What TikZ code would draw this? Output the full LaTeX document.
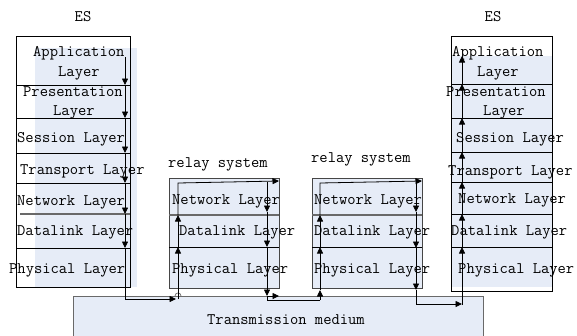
\documentclass[tikz,border=0pt]{standalone}
\usepackage{fontspec}
\usetikzlibrary{arrows.meta}
\definecolor{lblue}{RGB}{230,236,247}
\definecolor{dgray}{RGB}{105,105,105}
\definecolor{bgray}{RGB}{70,70,70}
\begin{document}
\begin{tikzpicture}[x=1pt,y=-1pt,
  lbl/.style={anchor=base west, inner sep=0pt, font=\ttfamily\fontsize{16.1}{18}\selectfont},
  ttl/.style={anchor=base, inner sep=0pt, font=\ttfamily\fontsize{16.1}{18}\selectfont},
  flow/.style={draw=black, line width=0.8pt},
  arr/.style={flow, -{Triangle[length=6.5pt,width=6pt]}},
  esbox/.style={draw=black, line width=0.7pt},
  divk/.style={draw=black, line width=0.7pt},
  divg/.style={draw=dgray, line width=1.1pt},
  relaybox/.style={fill=lblue, draw=bgray, line width=0.8pt},
  medbox/.style={fill=lblue, draw=dgray, line width=0.8pt}]
\useasboundingbox (0,0) rectangle (577,335);

% transmission medium
\draw[medbox] (73,340) -- (73,296) -- (483,296) -- (483,340);
\node[lbl] (tm) at (207,324) {Transmission medium};

% left ES
\fill[lblue] (35,48) rectangle (137,287);
\draw[esbox] (16,36) rectangle (130,287);
\foreach \y in {85,118,153,183,248} \draw[divk] (16,\y) -- (130,\y);
\draw[divg] (20,214) -- (130,214);
\node[ttl] (es1) at (83,21) {ES};
\node[lbl] (l1a) at (33,56) {Application};
\node[lbl] (l1b) at (58,76) {Layer};
\node[lbl] (l2a) at (23,96) {Presentation};
\node[lbl] (l2b) at (53,115) {Layer};
\node[lbl] (l3) at (17,142) {Session Layer};
\node[lbl] (l4) at (20,174) {Transport Layer};
\node[lbl] (l5) at (17,205) {Network Layer};
\node[lbl] (l6) at (17,235) {Datalink Layer};
\node[lbl] (l7) at (9,273) {Physical Layer};

% right ES
\fill[lblue] (451,56) rectangle (552,287);
\draw[esbox] (451,36) rectangle (552,291);
\foreach \y in {84,118,152,182,214,247} \draw[divk] (451,\y) -- (552,\y);
\node[ttl] (es2) at (493,21) {ES};
\node[lbl] (r1a) at (452,56) {Application};
\node[lbl] (r1b) at (477,76) {Layer};
\node[lbl] (r2a) at (446,96) {Presentation};
\node[lbl] (r2b) at (483,115) {Layer};
\node[lbl] (r3) at (456,142) {Session Layer};
\node[lbl] (r4) at (448,175) {Transport Layer};
\node[lbl] (r5) at (458,203) {Network Layer};
\node[lbl] (r6) at (451,235) {Datalink Layer};
\node[lbl] (r7) at (458,273) {Physical Layer};

% relay 1
\draw[relaybox] (169,178) rectangle (279,288);
\draw[divg] (169,215) -- (279,215);
\draw[divk] (169,247) -- (279,247);
\node[lbl] (rs1) at (168,167) {relay system};
\node[lbl] (a5) at (172,204) {Network Layer};
\node[lbl] (a6) at (179,235) {Datalink Layer};
\node[lbl] (a7) at (172,273) {Physical Layer};

% relay 2
\draw[relaybox] (312,178) rectangle (422,288);
\draw[divg] (312,215) -- (422,215);
\draw[divk] (312,247) -- (422,247);
\node[lbl] (rs2) at (311,162) {relay system};
\node[lbl] (b5) at (314,204) {Network Layer};
\node[lbl] (b6) at (314,235) {Datalink Layer};
\node[lbl] (b7) at (314,273) {Physical Layer};

% flow coordinates
\coordinate (p0) at (125,57);
\coordinate (p1) at (125,85);
\coordinate (p2) at (125,118);
\coordinate (p3) at (125,153);
\coordinate (p4) at (125,183);
\coordinate (p5) at (125,214);
\coordinate (p6) at (125,248);
\coordinate (p7) at (125,299);
\coordinate (p8) at (176,299);

\coordinate (q0) at (178,299);
\coordinate (q1) at (178,247);
\coordinate (q2) at (178,215);
\coordinate (q3) at (178,183);
\coordinate (q4) at (279,181);
\coordinate (q5) at (267,182);
\coordinate (q6) at (267,212);
\coordinate (q7) at (267,247);
\coordinate (q8) at (267,296);
\coordinate (q9) at (279,296);
\coordinate (q10) at (267,300);

\coordinate (s0) at (320,300);
\coordinate (s1) at (320,290);
\coordinate (s2) at (320,247);
\coordinate (s3) at (320,215);
\coordinate (s4) at (320,183);
\coordinate (s5) at (422,181);
\coordinate (s6) at (416,182);
\coordinate (s7) at (416,212);
\coordinate (s8) at (416,248);
\coordinate (s9) at (416,290);
\coordinate (s10) at (416,304);
\coordinate (s11) at (462,304);

\coordinate (t0) at (462,305);
\coordinate (t1) at (462,247);
\coordinate (t2) at (462,214);
\coordinate (t3) at (462,182);
\coordinate (t4) at (462,152);
\coordinate (t5) at (462,118);
\coordinate (t6) at (462,84);
\coordinate (t7) at (462,56);

% left ES flow
\draw[arr] (p0) -- (p1);
\draw[arr] (p1) -- (p2);
\draw[arr] (p2) -- (p3);
\draw[arr] (p3) -- (p4);
\draw[arr] (p4) -- (p5);
\draw[arr] (p5) -- (p6);
\draw[arr] (p6) -- (p7) -- (p8);

% relay 1 flow
\draw[dgray, line width=0.7pt] (175,296) .. controls (175,292) and (181,292) .. (181,296);
\draw[arr] (q0) -- (q1);
\draw[arr] (q1) -- (q2);
\draw[arr] (q2) -- (q3) -- (q4);
\draw[arr] (q5) -- (q6);
\draw[arr] (q6) -- (q7);
\draw[arr] (q7) -- (q8);
\draw[arr] (q8) -- (q9);
\draw[flow] (q8) -- (q10) -- (s0);

% relay 2 flow
\draw[arr] (s0) -- (s1);
\draw[arr] (s1) -- (s2);
\draw[arr] (s2) -- (s3);
\draw[arr] (s3) -- (s4) -- (s5);
\draw[arr] (s6) -- (s7);
\draw[arr] (s7) -- (s8);
\draw[arr] (s8) -- (s9);
\draw[arr] (s9) -- (s10) -- (s11);

% right ES flow
\draw[arr] (t0) -- (t1);
\draw[arr] (t1) -- (t2);
\draw[arr] (t2) -- (t3);
\draw[arr] (t3) -- (t4);
\draw[arr] (t4) -- (t5);
\draw[arr] (t5) -- (t6);
\draw[arr] (t6) -- (t7);
\end{tikzpicture}
\end{document}
